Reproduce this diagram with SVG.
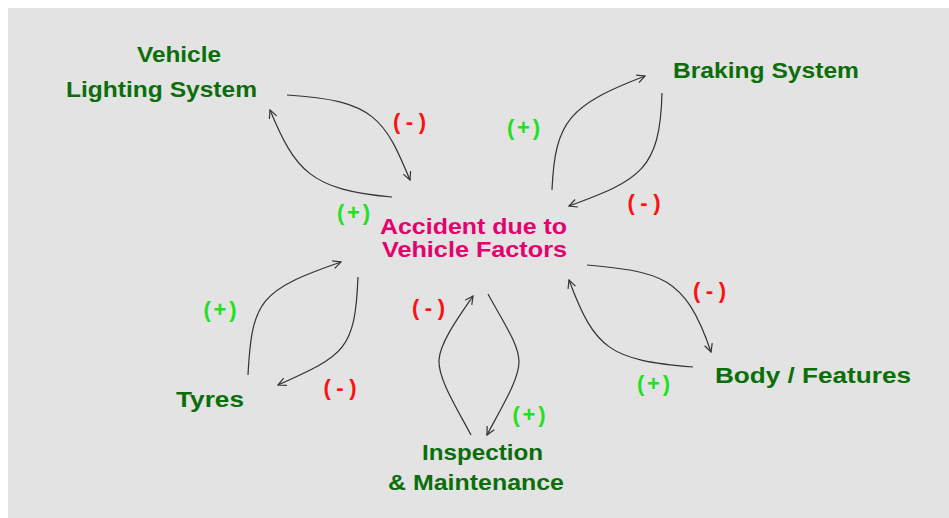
<svg xmlns="http://www.w3.org/2000/svg" width="949" height="518" viewBox="0 0 949 518">
  <style>
    .node { font-family: "Liberation Sans", Arial, sans-serif; font-weight: bold; font-size: 22px; text-anchor: middle; fill: #0b6e0b; }
    .center { fill: #e4006f; }
    .sign { font-family: "Liberation Sans", Arial, sans-serif; font-weight: bold; font-size: 22px; text-anchor: middle; }
    .neg { fill: #ff1010; }
    .pos { fill: #22e022; }
    .link { fill: none; stroke: #333; stroke-width: 1.2; marker-end: url(#arrow); }
  </style>
  <defs>
    <marker id="arrow" viewBox="0 0 10 10" refX="9" refY="5" markerWidth="10" markerHeight="10" markerUnits="userSpaceOnUse" orient="auto">
      <path d="M1,1 L9,5 L1,9" fill="none" stroke="#333" stroke-width="1.2"/>
    </marker>
  </defs>

  <rect x="0" y="0" width="949" height="518" fill="#ffffff"/>
  <rect x="8" y="8" width="941" height="510" fill="#e3e3e3"/>

  <g id="connectors">
    <!-- Vehicle Lighting System loop -->
    <path class="link" d="M287,95 C375,100 385,120 410,180"/>
    <path class="link" d="M392,197 C310,190 295,170 270,110"/>
    <!-- Braking System loop -->
    <path class="link" d="M552,190 C555,120 570,105 645,76"/>
    <path class="link" d="M662,93 C660,170 640,180 569,206"/>
    <!-- Body / Features loop -->
    <path class="link" d="M587,265 C660,272 685,275 711,352"/>
    <path class="link" d="M693,367 C610,360 595,350 569,280"/>
    <!-- Tyres loop -->
    <path class="link" d="M248,375 C252,300 260,290 341,262"/>
    <path class="link" d="M358,277 C355,350 345,355 278,385"/>
    <!-- Inspection & Maintenance loop -->
    <path class="link" d="M471,435 C455,405 438,378 439,360 C440,342 460,315 473,296"/>
    <path class="link" d="M488,294 C505,325 519,345 519,362 C519,380 500,410 487,435"/>
  </g>

  <g id="signs">
    <text class="sign neg" x="409.5" y="129" textLength="33" lengthAdjust="spacing">(-)</text>
    <text class="sign pos" x="523.5" y="135" textLength="33" lengthAdjust="spacing">(+)</text>
    <text class="sign neg" x="644" y="210" textLength="33" lengthAdjust="spacing">(-)</text>
    <text class="sign pos" x="353.5" y="220" textLength="33" lengthAdjust="spacing">(+)</text>
    <text class="sign neg" x="709.5" y="298" textLength="33" lengthAdjust="spacing">(-)</text>
    <text class="sign pos" x="653.5" y="391" textLength="33" lengthAdjust="spacing">(+)</text>
    <text class="sign pos" x="220" y="317" textLength="33" lengthAdjust="spacing">(+)</text>
    <text class="sign neg" x="340" y="395" textLength="33" lengthAdjust="spacing">(-)</text>
    <text class="sign neg" x="428.5" y="315" textLength="33" lengthAdjust="spacing">(-)</text>
    <text class="sign pos" x="529" y="422" textLength="33" lengthAdjust="spacing">(+)</text>
  </g>

  <g id="accident">
    <text class="node center" x="473.5" y="234" textLength="187" lengthAdjust="spacingAndGlyphs">Accident due to</text>
    <text class="node center" x="474.5" y="257" textLength="185" lengthAdjust="spacingAndGlyphs">Vehicle Factors</text>
  </g>
  <g id="lighting">
    <text class="node" x="179" y="62" textLength="84" lengthAdjust="spacingAndGlyphs">Vehicle</text>
    <text class="node" x="161.5" y="97" textLength="191" lengthAdjust="spacingAndGlyphs">Lighting System</text>
  </g>
  <g id="braking">
    <text class="node" x="766" y="78" textLength="186" lengthAdjust="spacingAndGlyphs">Braking System</text>
  </g>
  <g id="body">
    <text class="node" x="813" y="383" textLength="196" lengthAdjust="spacingAndGlyphs">Body / Features</text>
  </g>
  <g id="tyres">
    <text class="node" x="210" y="407" textLength="68" lengthAdjust="spacingAndGlyphs">Tyres</text>
  </g>
  <g id="inspection">
    <text class="node" x="482.5" y="460" textLength="121" lengthAdjust="spacingAndGlyphs">Inspection</text>
    <text class="node" x="476" y="490" textLength="176" lengthAdjust="spacingAndGlyphs">&amp; Maintenance</text>
  </g>
</svg>
